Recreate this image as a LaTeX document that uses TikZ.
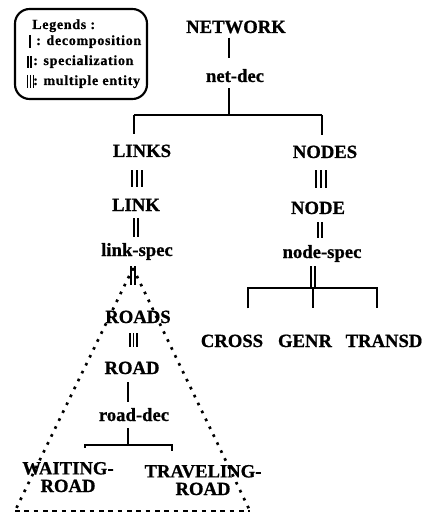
\documentclass[tikz,border=0pt]{standalone}
\usepackage{fontspec}
\setmainfont{Liberation Serif}[BoldFeatures={FakeBold=0.8}]
\newfontfamily\legfont{Liberation Serif}[LetterSpace=5,BoldFeatures={FakeBold=0.6}]
\usetikzlibrary{calc}
\newcommand\conn[6]{%
  \foreach \bx in {#1}{\draw[#6] ($(#2.south -| \bx,0)+(0,#3)$) -- ($(#4.north -| \bx,0)+(0,#5)$);}}
\begin{document}
\begin{tikzpicture}[x=0.75pt,y=-0.75pt,
  lbl/.style={font=\bfseries\fontsize{14}{13.2}\selectfont, inner sep=0pt, anchor=base},
  leg/.style={font=\legfont\bfseries\fontsize{10.5}{12}\selectfont, inner sep=0pt, anchor=base west},
  ln/.style={line width=1.6pt},
  bar/.style={line width=1.3pt},
  lbar/.style={line width=1.1pt},
  dotl/.style={line width=2pt, dash pattern=on 2pt off 4.6pt},
  dashb/.style={line width=2pt, dash pattern=on 3.5pt off 3.5pt},
  legbox/.style={draw, line width=1.6pt, rounded corners=11pt}]
\useasboundingbox (0,0) rectangle (428,513);

% legend
\draw[legbox] (15,9) rectangle (147,99);
\node[leg] (legt) at (32,29) {Legends :};
\node[leg] (leg1) at (36,45) {: decomposition};
\node[leg] (leg2) at (33,65) {: specialization};
\node[leg] (leg3) at (33,85) {: multiple entity};
\draw[lbar] (30,35) -- (30,48);
\foreach \x in {28,31} \draw[lbar] (\x,56) -- (\x,68);
\foreach \x in {27.5,30.5,33.5} \draw[lbar] (\x,75) -- (\x,88);

% nodes
\node[lbl] (network) at (236,33) {NETWORK};
\node[lbl] (netdec) at (235,82) {net-dec};
\node[lbl] (links) at (142,157) {LINKS};
\node[lbl] (link) at (136,211) {LINK};
\node[lbl] (linkspec) at (137,256) {link-spec};
\node[lbl] (nodes) at (325,158) {NODES};
\node[lbl] (node) at (318,214) {NODE};
\node[lbl] (nodespec) at (322,258) {node-spec};
\node[lbl] (roads) at (138,323) {ROADS};
\node[lbl] (road) at (132,374) {ROAD};
\node[lbl] (roaddec) at (134,421) {road-dec};
\node[lbl] (cross) at (232,347) {CROSS};
\node[lbl] (genr) at (305,347) {GENR};
\node[lbl] (transd) at (384,347) {TRANSD};
\node[lbl, align=center] (waiting) at (68,492) {WAITING-\\ROAD};
\node[lbl, align=center] (traveling) at (203,495) {TRAVELING-\\ROAD};

% junctions
\coordinate (jM) at (229,115);
\coordinate (jL) at (134,115);
\coordinate (jR) at (322,115);
\coordinate (kM) at (128,445);
\coordinate (kL) at (85,445);
\coordinate (kR) at (172,445);
\coordinate (nL) at (248,288);
\coordinate (nM) at (313,288);
\coordinate (nR) at (377,288);
\coordinate (tA) at (133,268);
\coordinate (tL) at (15,511);
\coordinate (tR) at (250,511);

% top decomposition
\conn{229}{network}{4}{netdec}{-11}{ln}
\draw[ln] ($(netdec.south -| jM)+(0,6)$) -- (jM);
\draw[ln] (jL) -- (jR);
\draw[ln] (jL) -- ($(links.north -| jL)+(0,-10)$);
\draw[ln] (jR) -- ($(nodes.north -| jR)+(0,-10)$);

% left branch
\conn{132,137,142}{links}{13}{link}{-12}{bar}
\conn{134,138}{link}{7}{linkspec}{-6}{bar}
\conn{131,135}{linkspec}{6}{roads}{-25}{bar}
\conn{130,133.5,137}{roads}{10}{road}{-14}{bar}
\conn{128}{road}{8}{roaddec}{-6}{ln}
\draw[ln] ($(roaddec.south -| kM)+(0,7)$) -- (kM);
\draw[ln] ($(waiting.north -| kL)+(0,-14)$) -- (kL) -- (kR) -- ($(traveling.north -| kR)+(0,-14)$);

% right branch
\conn{316,321,326}{nodes}{12}{node}{-13}{bar}
\conn{318,322}{node}{8}{nodespec}{-7}{bar}
\draw[bar] ($(nodespec.south -| 311,0)+(0,4)$) -- (311,288);
\draw[bar] ($(nodespec.south -| 315,0)+(0,4)$) -- (315,288);
\draw[ln] ($(cross.north -| nL)+(0,-26)$) -- (nL) -- (nR) -- ($(transd.north -| nR)+(0,-26)$);
\draw[ln] (nM) -- ($(genr.north -| nM)+(0,-26)$);

% dotted triangle
\draw[dotl] (tA) -- (tL);
\draw[dotl] (tA) -- (tR);
\draw[dashb] (tL) -- (tR);
\end{tikzpicture}
\end{document}
